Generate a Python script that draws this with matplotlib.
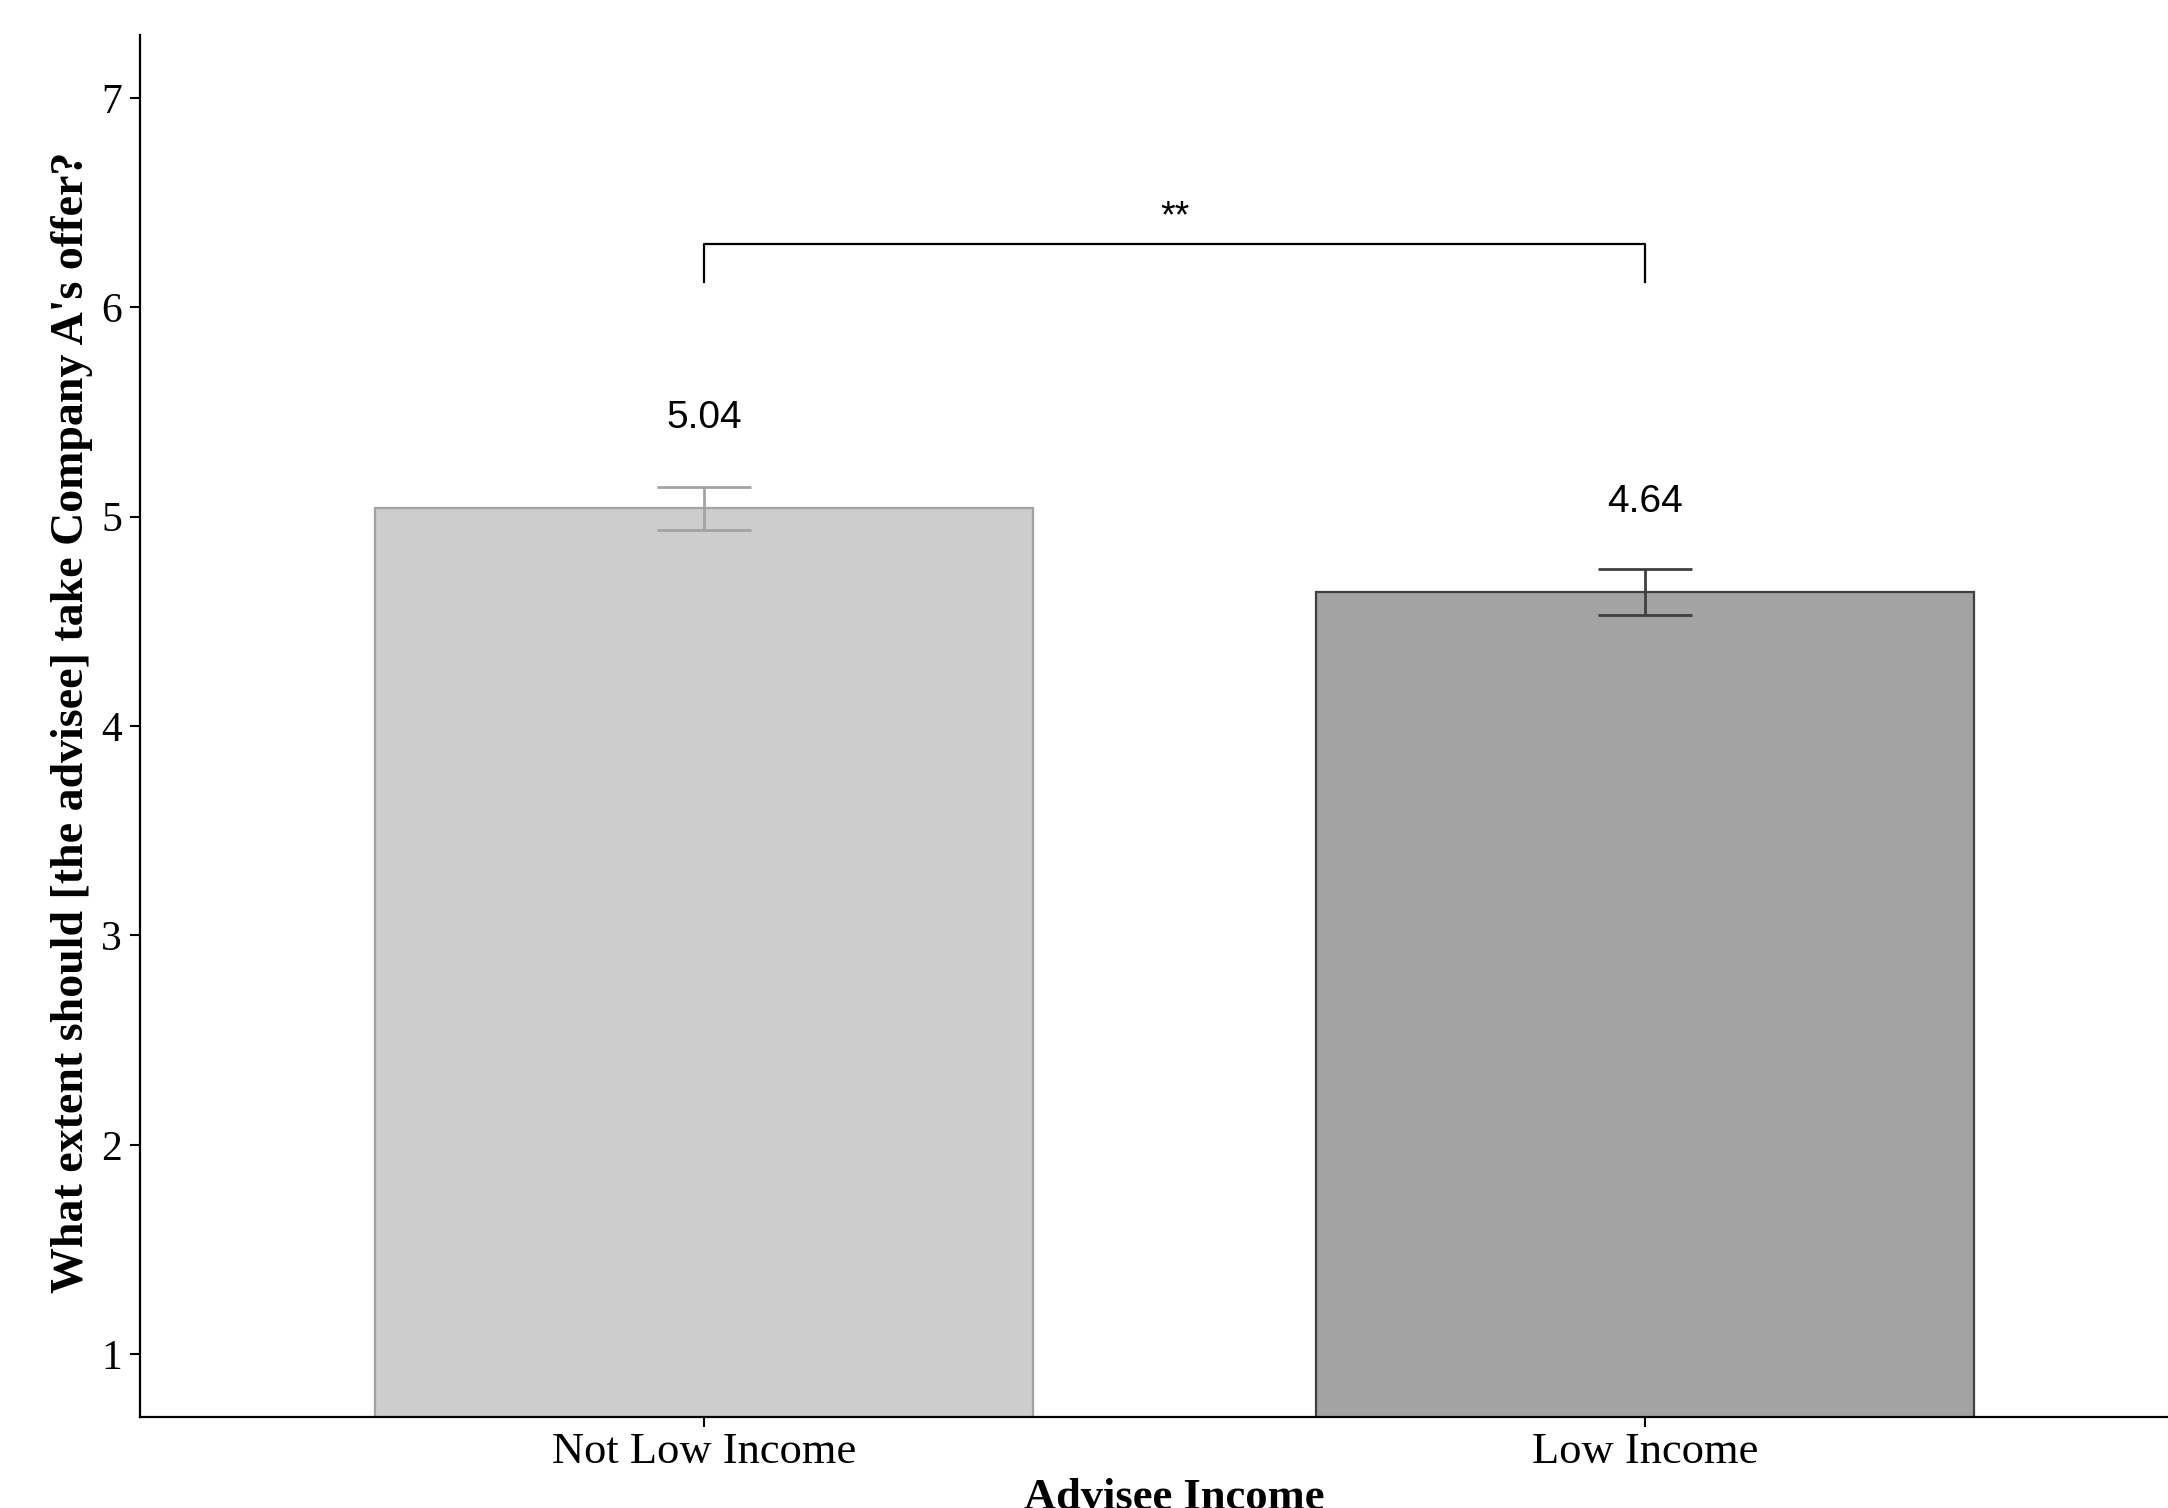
import numpy as np
import matplotlib
matplotlib.use('Agg')
import matplotlib.pyplot as plt

# data
groups = ['Not Low Income', 'Low Income']
means = [5.04, 4.64]
se = [0.103, 0.11]
fills = ['#cdcdcd', '#a3a3a3']
edges = ['#a3a3a3', '#404040']
sig_label = '**'

W, H = 2168, 1508
fig = plt.figure(figsize=(W / 100, H / 100), dpi=100)
# axes runs a bit past the right edge, like the cropped original
ax = fig.add_axes([140 / W, (H - 1417) / H, (2209 - 140) / W, (1417 - 35) / H])

x = np.arange(1, len(groups) + 1)
ax.bar(x, means, width=0.7, color=fills, edgecolor=edges, linewidth=1.6, zorder=2)

for xi, m, s, c in zip(x, means, se, edges):
    ax.vlines(xi, m - s, m + s, color=c, lw=2, zorder=3)
    ax.hlines([m - s, m + s], xi - 0.05, xi + 0.05, color=c, lw=2, zorder=3)
    ax.text(xi, m + 0.43, f'{m:.2f}', ha='center', va='center',
            fontsize=28, family='Liberation Sans')

# significance bracket
ax.plot([1, 1, 2, 2], [6.12, 6.30, 6.30, 6.12], color='black', lw=1.6)
ax.text(1.5, 6.43, sig_label, ha='center', va='center', fontsize=27,
        family='Liberation Sans')

ax.set_xlim(0.4, 2.6)
ax.set_ylim(0.7, 7.3)
ax.set_yticks(range(1, 8))
ax.set_xticks(x)
ax.set_xticklabels(groups)

for sp in ['top', 'right']:
    ax.spines[sp].set_visible(False)
for sp in ['left', 'bottom']:
    ax.spines[sp].set_linewidth(1.6)

ax.tick_params(axis='both', length=7, width=1.5, color='black')
ax.tick_params(axis='y', pad=6)
ax.tick_params(axis='x', pad=4)
for lab in ax.get_yticklabels():
    lab.set_fontfamily('Liberation Serif')
    lab.set_fontsize(30)
for lab in ax.get_xticklabels():
    lab.set_fontfamily('Liberation Serif')
    lab.set_fontsize(32)

fig.text(72 / W, 1 - 722 / H, "What extent should [the advisee] take Company A's offer?",
         rotation=90, ha='center', va='center', fontsize=33, fontweight='bold',
         family='Liberation Serif')
fig.text(1174 / W, 1 - 1478 / H, 'Advisee Income', ha='center', va='top',
         fontsize=32, fontweight='bold', family='Liberation Serif')

fig.savefig('out.png', dpi=100)
